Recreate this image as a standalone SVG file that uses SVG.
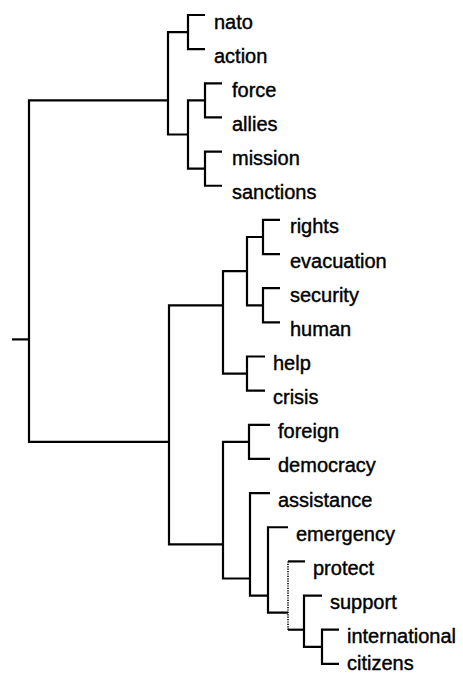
<svg xmlns="http://www.w3.org/2000/svg" width="463" height="675" viewBox="0 0 463 675">
<style>
.c{fill:none;stroke:#000;stroke-width:2.2;stroke-linejoin:miter;stroke-linecap:butt}
.d{fill:none;stroke:#000;stroke-width:1.6;stroke-dasharray:1.2 1.2}
.t{font-family:"Liberation Sans",Arial,sans-serif;font-size:20px;fill:#000;stroke:#000;stroke-width:0.4}
</style>
<rect width="463" height="675" fill="#fff"/>
<g id="connectors">
<path class="c" d="M12 339.4 H29"/>
<path class="c" d="M168 100.4 H29 V441.9 H169"/>
<path class="c" d="M188 32.1 H168 V134.5 H188"/>
<path class="c" d="M205 15 H188 V49.15 H205"/>
<path class="c" d="M205 100.4 H188 V168.7 H205"/>
<path class="c" d="M222 83.3 H205 V117.45 H222"/>
<path class="c" d="M222 151.6 H205 V185.75 H222"/>
<path class="c" d="M223 305.3 H169 V544.3 H223"/>
<path class="c" d="M247 271.1 H223 V373.6 H247"/>
<path class="c" d="M263 237 H247 V305.3 H263"/>
<path class="c" d="M280 219.9 H263 V254.05 H280"/>
<path class="c" d="M280 288.2 H263 V322.35 H280"/>
<path class="c" d="M265 356.5 H247 V390.65 H265"/>
<path class="c" d="M249 441.9 H223 V578.5 H250"/>
<path class="c" d="M270 424.8 H249 V458.95 H270"/>
<path class="c" d="M270 493.1 H250 V595.55 H268"/>
<path class="c" d="M288 527.25 H268 V612.6 H288"/>
<path class="c" d="M288 561.4 H305"/>
<path class="d" d="M288 561.4 V629.7"/>
<path class="c" d="M288 629.7 H304"/>
<path class="c" d="M322 595.55 H304 V646.8 H322"/>
<path class="c" d="M339 629.7 H322 V663.85 H339"/>
</g>
<g id="n-nato"><text class="t" x="214" y="28.5">nato</text></g>
<g id="n-action"><text class="t" x="214" y="62.6">action</text></g>
<g id="n-force"><text class="t" x="232" y="96.8">force</text></g>
<g id="n-allies"><text class="t" x="232" y="131">allies</text></g>
<g id="n-mission"><text class="t" x="232" y="165.1">mission</text></g>
<g id="n-sanctions"><text class="t" x="232" y="199.2">sanctions</text></g>
<g id="n-rights"><text class="t" x="290" y="233.4">rights</text></g>
<g id="n-evacuation"><text class="t" x="290" y="267.5">evacuation</text></g>
<g id="n-security"><text class="t" x="290" y="301.7">security</text></g>
<g id="n-human"><text class="t" x="290" y="335.8">human</text></g>
<g id="n-help"><text class="t" x="273" y="370">help</text></g>
<g id="n-crisis"><text class="t" x="273" y="404.1">crisis</text></g>
<g id="n-foreign"><text class="t" x="278" y="438.3">foreign</text></g>
<g id="n-democracy"><text class="t" x="278" y="472.4">democracy</text></g>
<g id="n-assistance"><text class="t" x="278" y="506.6">assistance</text></g>
<g id="n-emergency"><text class="t" x="296" y="540.7">emergency</text></g>
<g id="n-protect"><text class="t" x="313" y="574.9">protect</text></g>
<g id="n-support"><text class="t" x="330" y="609">support</text></g>
<g id="n-international"><text class="t" x="347" y="643.2">international</text></g>
<g id="n-citizens"><text class="t" x="347" y="670">citizens</text></g>
</svg>
